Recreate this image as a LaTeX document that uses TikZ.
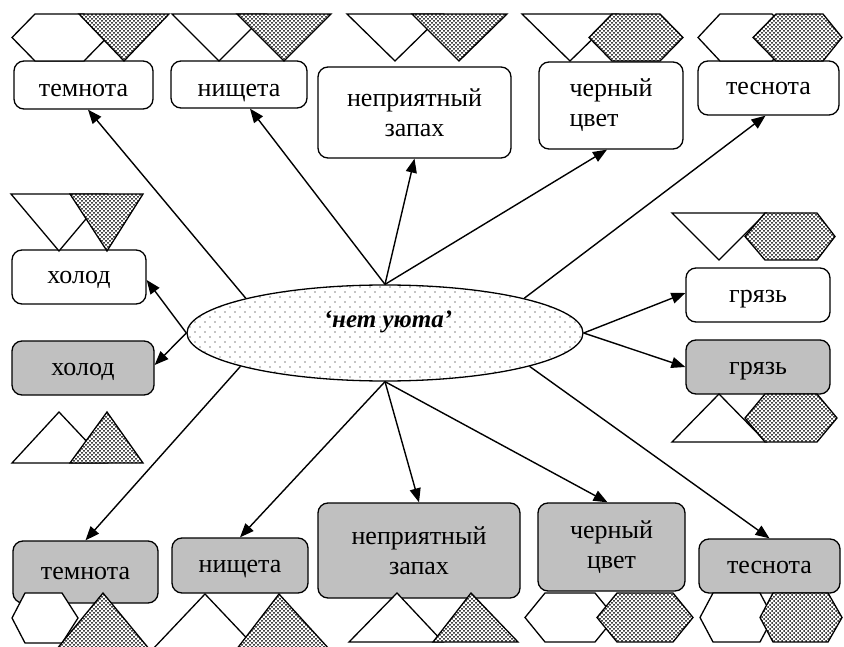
\documentclass[tikz,border=0pt]{standalone}
\usepackage{fontspec}
\setmainfont{Liberation Serif}
\usetikzlibrary{arrows.meta,patterns,shapes.geometric}

% heavy speckle used inside the small triangles and hexagons
\pgfdeclarepatternformonly{densedots}{\pgfqpoint{-1.2pt}{-1.2pt}}{\pgfqpoint{5.2pt}{5.2pt}}{\pgfqpoint{4pt}{4pt}}{%
  \pgfpathcircle{\pgfqpoint{0pt}{0pt}}{1pt}%
  \pgfpathcircle{\pgfqpoint{2pt}{2pt}}{1pt}%
  \pgfusepath{fill}}
% light sprinkle inside the central ellipse
\pgfdeclarepatternformonly{sparsedots}{\pgfqpoint{-1pt}{-1pt}}{\pgfqpoint{11pt}{11pt}}{\pgfqpoint{10pt}{10pt}}{%
  \pgfpathcircle{\pgfqpoint{0pt}{0pt}}{0.65pt}%
  \pgfpathcircle{\pgfqpoint{5pt}{5pt}}{0.65pt}%
  \pgfusepath{fill}}

\definecolor{boxgrey}{RGB}{192,192,192}

\tikzset{
  wbox/.style={draw, line width=1.3pt, rounded corners=10pt, fill=white,
    align=center, inner sep=0pt, font=\fontsize{26}{30}\selectfont},
  gbox/.style={wbox, fill=boxgrey},
  oneline/.style={text height=20pt, text depth=6pt},
  lowline/.style={text height=30pt, text depth=6pt},
  blank/.style={draw, line width=1.3pt, fill=white, line join=miter},
  speckled/.style={draw, line width=1.3pt, line join=miter,
    preaction={fill=white}, pattern=densedots},
  arr/.style={line width=1.4pt, -{Triangle[length=14pt,width=11pt]}},
}

\begin{document}
\begin{tikzpicture}[x=1pt,y=-1pt]
\clip (0,0) rectangle (844,647);

% ---- upper row of boxes
\node[wbox, lowline, minimum width=139, minimum height=48] (T1) at (83.5,85) {темнота};
\node[wbox, lowline, minimum width=136, minimum height=47] (T2) at (239,84.5) {нищета};
\node[wbox, minimum width=193, minimum height=91] (T3) at (414.5,112.5) {неприятный\\запах};
\node[wbox, minimum width=144, minimum height=87, align=left] (T4) at (611,105.5) {черный\\цвет};
\node[wbox, oneline, minimum width=141, minimum height=54] (T5) at (768.5,88) {теснота};

% ---- side boxes
\node[wbox, oneline, minimum width=134, minimum height=54] (L1) at (79,277) {холод};
\node[gbox, oneline, minimum width=142, minimum height=54] (L2) at (83,368) {холод};
\node[wbox, oneline, minimum width=144, minimum height=54] (R1) at (758,295) {грязь};
\node[gbox, oneline, minimum width=144, minimum height=54] (R2) at (758,367) {грязь};

% ---- lower row of boxes
\node[gbox, oneline, minimum width=145, minimum height=62] (B1) at (85.5,572) {темнота};
\node[gbox, oneline, minimum width=136, minimum height=55] (B2) at (240,565.5) {нищета};
\node[gbox, minimum width=202, minimum height=95] (B3) at (419,550.5) {неприятный\\запах};
\node[gbox, minimum width=147, minimum height=88] (B4) at (611.5,547) {черный\\цвет};
\node[gbox, oneline, minimum width=141, minimum height=54] (B5) at (769.5,566) {теснота};

% ---- central ellipse
\node[ellipse, draw, line width=1.3pt, minimum width=396, minimum height=96,
      inner sep=0pt, preaction={fill=white}, pattern=sparsedots] (c) at (385,333) {};
\node[font=\fontsize{25}{28}\selectfont\bfseries\itshape] (ct) at (388,322) {‘нет уюта’};

% ---- connectors
\draw[arr] (c.166) -- ([xshift=4.5pt]T1.south);
\draw[arr] (c.north) -- ([xshift=11pt]T2.south);
\draw[arr] (c.north) -- (T3.south);
\draw[arr] (c.north) -- ([xshift=-4pt]T4.south);
\draw[arr] (c.14) -- ([xshift=-3pt]T5.south);
\draw[arr] (c.west) -- ([yshift=-3pt]L1.east);
\draw[arr] (c.west) -- ([yshift=3pt]L2.east);
\draw[arr] (c.east) -- ([yshift=2pt]R1.west);
\draw[arr] (c.east) -- (R2.west);
\draw[arr] (c.193) -- (B1.north);
\draw[arr] (c.south) -- (B2.north);
\draw[arr] (c.south) -- (B3.north);
\draw[arr] (c.south) -- ([xshift=-4pt]B4.north);
\draw[arr] (c.347) -- (B5.north);

% ---- small figures, top edge
\draw[blank] (12,37.5) -- (35,14) -- (84,14) -- (107,37.5) -- (84,61) -- (35,61) -- cycle;
\draw[speckled] (79,14) -- (169,14) -- (124,61) -- cycle;
\draw[blank] (172,14) -- (266,14) -- (219,61) -- cycle;
\draw[speckled] (237,14) -- (331,14) -- (284,61) -- cycle;
\draw[blank] (347,14) -- (443,14) -- (395,61) -- cycle;
\draw[speckled] (412,14) -- (507,14) -- (459,61) -- cycle;
\draw[blank] (522,14) -- (618,14) -- (570,61) -- cycle;
\draw[speckled] (589,37.5) -- (612,14) -- (660,14) -- (683,37.5) -- (660,61) -- (612,61) -- cycle;
\draw[blank] (698,37.5) -- (720,14) -- (772,14) -- (795,37.5) -- (772,61) -- (720,61) -- cycle;
\draw[speckled] (753,37.5) -- (776,14) -- (823,14) -- (842,37.5) -- (823,61) -- (776,61) -- cycle;

% ---- small figures, left side
\draw[blank] (11,194) -- (107,194) -- (59,251) -- cycle;
\draw[speckled] (70,194) -- (143,194) -- (107,251) -- cycle;
\draw[blank] (12,463) -- (107,463) -- (59,412) -- cycle;
\draw[speckled] (70,463) -- (143,463) -- (107,412) -- cycle;

% ---- small figures, right side
\draw[blank] (672,213) -- (766,213) -- (719,260) -- cycle;
\draw[speckled] (745,236.5) -- (765,213) -- (817,213) -- (835,236.5) -- (817,260) -- (765,260) -- cycle;
\draw[blank] (672,442) -- (766,442) -- (719,394) -- cycle;
\draw[speckled] (745,418) -- (765,394) -- (817,394) -- (837,418) -- (817,442) -- (765,442) -- cycle;

% ---- small figures, bottom edge
\draw[blank] (12,618) -- (25,593) -- (62,593) -- (78,618) -- (62,643) -- (25,643) -- cycle;
\draw[speckled] (103,593) -- (150,650) -- (56,650) -- cycle;
\draw[blank] (205,594) -- (258,650) -- (152,650) -- cycle;
\draw[speckled] (279,594) -- (330,650) -- (236,650) -- cycle;
\draw[blank] (349,642) -- (443,642) -- (397,593) -- cycle;
\draw[speckled] (433,642) -- (518,642) -- (471,593) -- cycle;
\draw[blank] (525,617.5) -- (545,593) -- (595,593) -- (615,617.5) -- (595,642) -- (545,642) -- cycle;
\draw[speckled] (597,617.5) -- (617,593) -- (673,593) -- (693,617.5) -- (673,642) -- (617,642) -- cycle;
\draw[blank] (700,617.5) -- (713,593) -- (760,593) -- (773,617.5) -- (760,642) -- (713,642) -- cycle;
\draw[speckled] (760,617.5) -- (773,593) -- (828,593) -- (842,617.5) -- (828,642) -- (773,642) -- cycle;
\end{tikzpicture}
\end{document}
